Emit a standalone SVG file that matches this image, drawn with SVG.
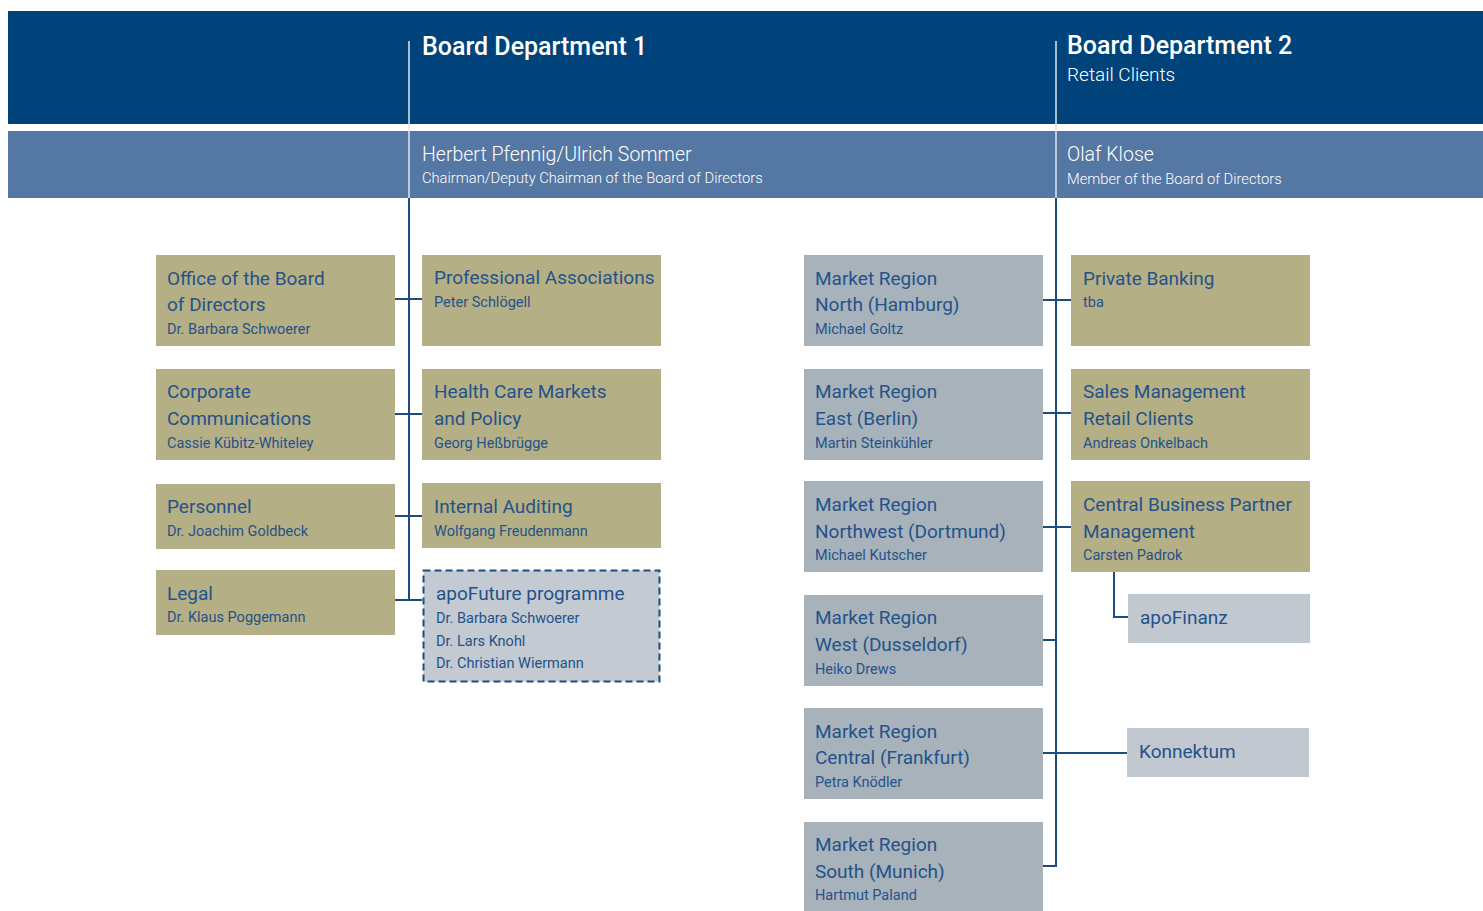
<svg xmlns="http://www.w3.org/2000/svg" width="1483" height="911" viewBox="0 0 1483 911">
<style>
.t{font-family:Roboto,"Liberation Sans",sans-serif;fill:#24528a}
.h{font-size:19px}
.n{font-size:14.5px}
.w{fill:#ffffff}
.gold{fill:#b5af86}
.gray{fill:#a8b2bb}
.lt{fill:#c1c8cf}
.c{stroke:#1d4c80;stroke-width:2;fill:none}
</style>
<rect width="1483" height="911" fill="#ffffff"/>
<g id="header">
<rect x="8" y="11" width="1475" height="113" fill="#00437a"/>
<rect x="8" y="131" width="1475" height="67" fill="#5577a3"/>
<line x1="409" y1="41" x2="409" y2="198" stroke="#dfe6ee" stroke-width="1.5"/>
<line x1="1056" y1="41" x2="1056" y2="198" stroke="#dfe6ee" stroke-width="1.5"/>
<text class="t w" x="422" y="55" font-size="25" font-weight="500">Board Department 1</text>
<text class="t w" x="1067" y="54" font-size="25" font-weight="500">Board Department 2</text>
<text class="t w" x="1067" y="81" font-size="19" font-weight="300">Retail Clients</text>
<text class="t w" x="422" y="161" font-size="19.5" font-weight="300">Herbert Pfennig/Ulrich Sommer</text>
<text class="t w" x="422" y="183" font-size="14.7" font-weight="300">Chairman/Deputy Chairman of the Board of Directors</text>
<text class="t w" x="1067" y="161" font-size="19.5" font-weight="300">Olaf Klose</text>
<text class="t w" x="1067" y="184" font-size="14.7" font-weight="300">Member of the Board of Directors</text>
</g>
<g id="connectors">
<line class="c" x1="409" y1="198" x2="409" y2="601"/>
<line class="c" x1="395" y1="299" x2="422" y2="299"/>
<line class="c" x1="395" y1="414" x2="422" y2="414"/>
<line class="c" x1="395" y1="516" x2="422" y2="516"/>
<line class="c" x1="395" y1="600" x2="422" y2="600"/>
<line class="c" x1="1056" y1="198" x2="1056" y2="867"/>
<line class="c" x1="1043" y1="300" x2="1071" y2="300"/>
<line class="c" x1="1043" y1="413" x2="1071" y2="413"/>
<line class="c" x1="1043" y1="527" x2="1071" y2="527"/>
<line class="c" x1="1043" y1="640" x2="1056" y2="640"/>
<line class="c" x1="1043" y1="753" x2="1127" y2="753"/>
<line class="c" x1="1043" y1="866" x2="1056" y2="866"/>
<polyline class="c" points="1114,572 1114,617 1128,617"/>
</g>
<g id="office">
<rect class="gold" x="156" y="255" width="239" height="91"/>
<text class="t h" x="167" y="285">Office of the Board</text>
<text class="t h" x="167" y="311">of Directors</text>
<text class="t n" x="167" y="334">Dr. Barbara Schwoerer</text>
</g>
<g id="corpcomm">
<rect class="gold" x="156" y="369" width="239" height="91"/>
<text class="t h" x="167" y="398">Corporate</text>
<text class="t h" x="167" y="425">Communications</text>
<text class="t n" x="167" y="448">Cassie Kübitz-Whiteley</text>
</g>
<g id="personnel">
<rect class="gold" x="156" y="484" width="239" height="65"/>
<text class="t h" x="167" y="513">Personnel</text>
<text class="t n" x="167" y="536">Dr. Joachim Goldbeck</text>
</g>
<g id="legal">
<rect class="gold" x="156" y="570" width="239" height="65"/>
<text class="t h" x="167" y="600">Legal</text>
<text class="t n" x="167" y="622">Dr. Klaus Poggemann</text>
</g>
<g id="profassoc">
<rect class="gold" x="422" y="255" width="239" height="91"/>
<text class="t h" x="434" y="284">Professional Associations</text>
<text class="t n" x="434" y="307">Peter Schlögell</text>
</g>
<g id="healthcare">
<rect class="gold" x="422" y="369" width="239" height="91"/>
<text class="t h" x="434" y="398">Health Care Markets</text>
<text class="t h" x="434" y="425">and Policy</text>
<text class="t n" x="434" y="448">Georg Heßbrügge</text>
</g>
<g id="auditing">
<rect class="gold" x="422" y="483" width="239" height="65"/>
<text class="t h" x="434" y="513">Internal Auditing</text>
<text class="t n" x="434" y="536">Wolfgang Freudenmann</text>
</g>
<g id="apofuture">
<rect x="423.5" y="570.5" width="236" height="111" fill="#c3cad2" stroke="#1d4c80" stroke-width="2" stroke-dasharray="7,4"/>
<text class="t h" x="436" y="600">apoFuture programme</text>
<text class="t n" x="436" y="623">Dr. Barbara Schwoerer</text>
<text class="t n" x="436" y="646">Dr. Lars Knohl</text>
<text class="t n" x="436" y="668">Dr. Christian Wiermann</text>
</g>
<g id="mr-north">
<rect class="gray" x="804" y="255" width="239" height="91"/>
<text class="t h" x="815" y="285">Market Region</text>
<text class="t h" x="815" y="311">North (Hamburg)</text>
<text class="t n" x="815" y="334">Michael Goltz</text>
</g>
<g id="mr-east">
<rect class="gray" x="804" y="369" width="239" height="91"/>
<text class="t h" x="815" y="398">Market Region</text>
<text class="t h" x="815" y="425">East (Berlin)</text>
<text class="t n" x="815" y="448">Martin Steinkühler</text>
</g>
<g id="mr-northwest">
<rect class="gray" x="804" y="481" width="239" height="91"/>
<text class="t h" x="815" y="511">Market Region</text>
<text class="t h" x="815" y="538">Northwest (Dortmund)</text>
<text class="t n" x="815" y="560">Michael Kutscher</text>
</g>
<g id="mr-west">
<rect class="gray" x="804" y="595" width="239" height="91"/>
<text class="t h" x="815" y="624">Market Region</text>
<text class="t h" x="815" y="651">West (Dusseldorf)</text>
<text class="t n" x="815" y="674">Heiko Drews</text>
</g>
<g id="mr-central">
<rect class="gray" x="804" y="708" width="239" height="91"/>
<text class="t h" x="815" y="738">Market Region</text>
<text class="t h" x="815" y="764">Central (Frankfurt)</text>
<text class="t n" x="815" y="787">Petra Knödler</text>
</g>
<g id="mr-south">
<rect class="gray" x="804" y="822" width="239" height="89"/>
<text class="t h" x="815" y="851">Market Region</text>
<text class="t h" x="815" y="878">South (Munich)</text>
<text class="t n" x="815" y="900">Hartmut Paland</text>
</g>
<g id="privatebanking">
<rect class="gold" x="1071" y="255" width="239" height="91"/>
<text class="t h" x="1083" y="285">Private Banking</text>
<text class="t n" x="1083" y="307">tba</text>
</g>
<g id="salesmgmt">
<rect class="gold" x="1071" y="369" width="239" height="91"/>
<text class="t h" x="1083" y="398">Sales Management</text>
<text class="t h" x="1083" y="425">Retail Clients</text>
<text class="t n" x="1083" y="448">Andreas Onkelbach</text>
</g>
<g id="cbpm">
<rect class="gold" x="1071" y="481" width="239" height="91"/>
<text class="t h" x="1083" y="511">Central Business Partner</text>
<text class="t h" x="1083" y="538">Management</text>
<text class="t n" x="1083" y="560">Carsten Padrok</text>
</g>
<g id="apofinanz">
<rect class="lt" x="1128" y="594" width="182" height="49"/>
<text class="t h" x="1140" y="624">apoFinanz</text>
</g>
<g id="konnektum">
<rect class="lt" x="1127" y="728" width="182" height="49"/>
<text class="t h" x="1139" y="758">Konnektum</text>
</g>
</svg>
